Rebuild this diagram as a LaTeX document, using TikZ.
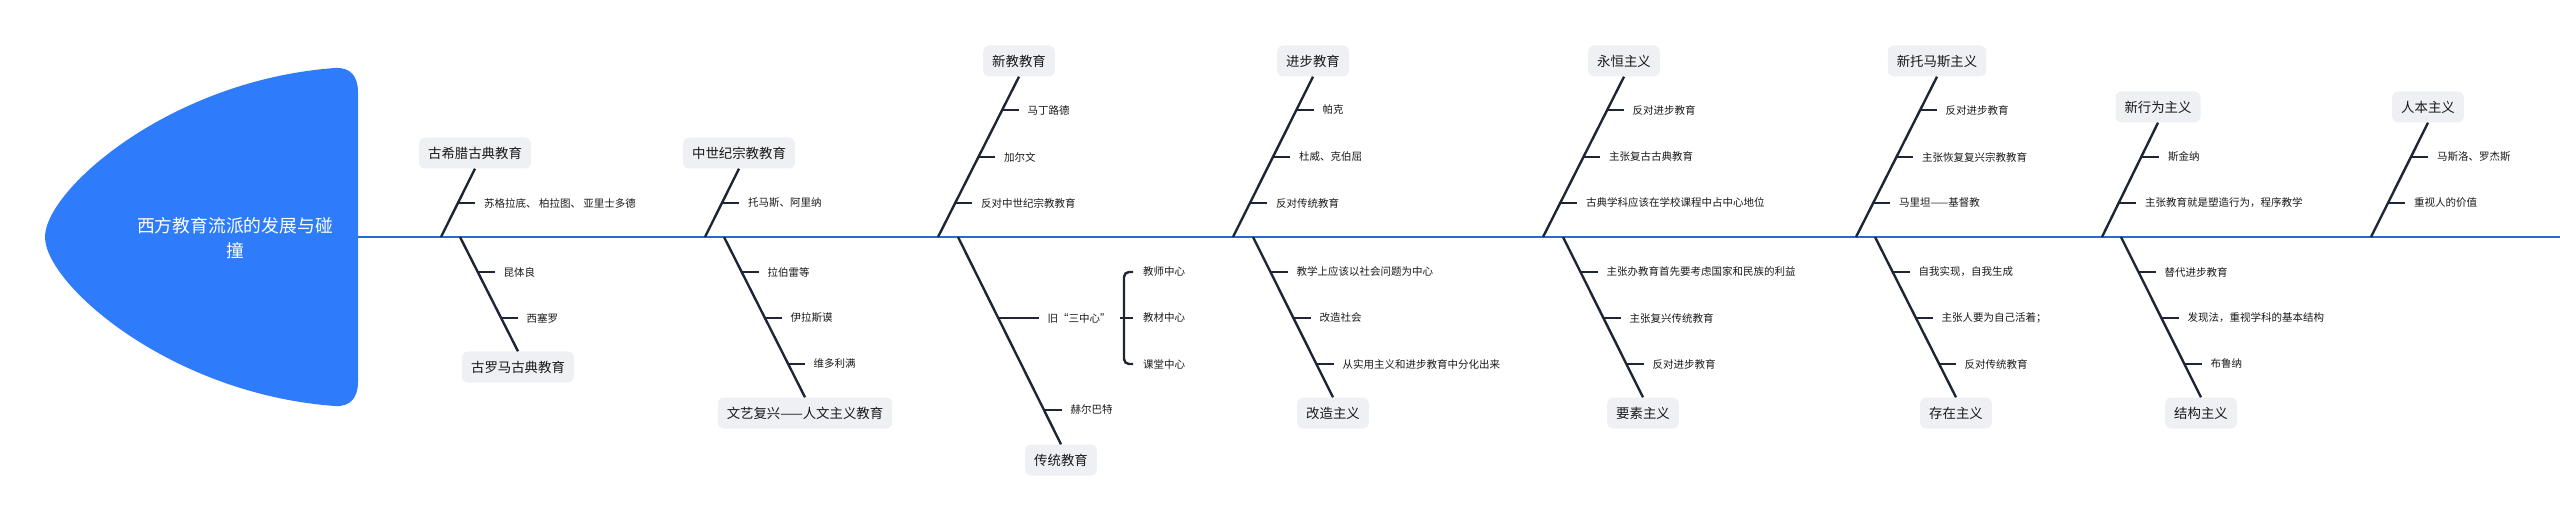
\documentclass[tikz,border=0pt]{standalone}
\usepackage{fontspec}
\newfontfamily\cjk{Noto Sans CJK SC}
\usetikzlibrary{positioning, calc}
\definecolor{headblue}{RGB}{46,124,250}
\definecolor{spineblue}{RGB}{38,106,214}
\definecolor{bonecol}{RGB}{30,37,52}
\definecolor{boxfill}{RGB}{238,240,244}
\definecolor{txtcol}{RGB}{25,25,25}
\tikzset{
	spine/.style = {spineblue, line width=2.6pt},
	bone/.style = {bonecol, line width=2.4pt},
	cat/.style = {fill=boxfill, rounded corners=6pt, text=txtcol, inner xsep=9pt, minimum height=31pt, font=\cjk\fontsize{13.4pt}{16pt}\selectfont},
	item/.style = {text=txtcol, inner xsep=9pt, inner ysep=2pt, font=\cjk\fontsize{10.5pt}{12pt}\selectfont},
	rootlabel/.style = {text=white, align=center, font=\cjk\fontsize{17.8pt}{25pt}\selectfont}
}
\begin{document}
\begin{tikzpicture}[x=1pt, y=-1pt]
	\useasboundingbox (0,0) rectangle (2560,521);
	%%% Testa
	\fill[headblue] (45,237) .. controls (45,190) and (170,80) .. (335,68)
		.. controls (350,67) and (358,76) .. (358,92) -- (358,382)
		.. controls (358,398) and (350,407) .. (335,406)
		.. controls (170,394) and (45,284) .. (45,237) -- cycle;
	\node[rootlabel] (root) at (235,238) {西方教育流派的发展与碰\\撞};
	\coordinate (headR) at (358,237);
	\coordinate (tail) at (2560,237);
	\draw[spine] (headR) -- (tail);
	%%% Rami superiori
	\coordinate (u1s) at (441,237);
	\node[cat] (u1) at (475,153) {古希腊古典教育};
	\draw[bone] (u1s) -- (u1.south);
	\foreach \d/\t [count=\i] in {34/苏格拉底、 柏拉图、 亚里士多德}{
		\coordinate (u1k\i) at ($(u1s)+(\d/2,-\d)$);
		\node[item, right=17pt of u1k\i] (u1t\i) {\t};
		\draw[bone] (u1k\i) -- (u1t\i.west);
	}
	\coordinate (u2s) at (705,237);
	\node[cat] (u2) at (739,153) {中世纪宗教教育};
	\draw[bone] (u2s) -- (u2.south);
	\foreach \d/\t [count=\i] in {34/托马斯、阿里纳}{
		\coordinate (u2k\i) at ($(u2s)+(\d/2,-\d)$);
		\node[item, right=17pt of u2k\i] (u2t\i) {\t};
		\draw[bone] (u2k\i) -- (u2t\i.west);
	}
	\coordinate (u3s) at (938,237);
	\node[cat] (u3) at (1019,61) {新教教育};
	\draw[bone] (u3s) -- (u3.south);
	\foreach \d/\t [count=\i] in {127/马丁路德, 80/加尔文, 34/反对中世纪宗教教育}{
		\coordinate (u3k\i) at ($(u3s)+(\d/2,-\d)$);
		\node[item, right=17pt of u3k\i] (u3t\i) {\t};
		\draw[bone] (u3k\i) -- (u3t\i.west);
	}
	\coordinate (u4s) at (1233,237);
	\node[cat] (u4) at (1313,61) {进步教育};
	\draw[bone] (u4s) -- (u4.south);
	\foreach \d/\t [count=\i] in {127/帕克, 80/杜威、克伯屈, 34/反对传统教育}{
		\coordinate (u4k\i) at ($(u4s)+(\d/2,-\d)$);
		\node[item, right=17pt of u4k\i] (u4t\i) {\t};
		\draw[bone] (u4k\i) -- (u4t\i.west);
	}
	\coordinate (u5s) at (1543,237);
	\node[cat] (u5) at (1624,61) {永恒主义};
	\draw[bone] (u5s) -- (u5.south);
	\foreach \d/\t [count=\i] in {127/反对进步教育, 80/主张复古古典教育, 34/古典学科应该在学校课程中占中心地位}{
		\coordinate (u5k\i) at ($(u5s)+(\d/2,-\d)$);
		\node[item, right=17pt of u5k\i] (u5t\i) {\t};
		\draw[bone] (u5k\i) -- (u5t\i.west);
	}
	\coordinate (u6s) at (1856,237);
	\node[cat] (u6) at (1937,61) {新托马斯主义};
	\draw[bone] (u6s) -- (u6.south);
	\foreach \d/\t [count=\i] in {127/反对进步教育, 80/主张恢复复兴宗教教育, 34/马里坦——基督教}{
		\coordinate (u6k\i) at ($(u6s)+(\d/2,-\d)$);
		\node[item, right=17pt of u6k\i] (u6t\i) {\t};
		\draw[bone] (u6k\i) -- (u6t\i.west);
	}
	\coordinate (u7s) at (2102,237);
	\node[cat] (u7) at (2158,107) {新行为主义};
	\draw[bone] (u7s) -- (u7.south);
	\foreach \d/\t [count=\i] in {80/斯金纳, 34/主张教育就是塑造行为，程序教学}{
		\coordinate (u7k\i) at ($(u7s)+(\d/2,-\d)$);
		\node[item, right=17pt of u7k\i] (u7t\i) {\t};
		\draw[bone] (u7k\i) -- (u7t\i.west);
	}
	\coordinate (u8s) at (2371,237);
	\node[cat] (u8) at (2428,107) {人本主义};
	\draw[bone] (u8s) -- (u8.south);
	\foreach \d/\t [count=\i] in {80/马斯洛、罗杰斯, 34/重视人的价值}{
		\coordinate (u8k\i) at ($(u8s)+(\d/2,-\d)$);
		\node[item, right=17pt of u8k\i] (u8t\i) {\t};
		\draw[bone] (u8k\i) -- (u8t\i.west);
	}
	%%% Rami inferiori
	\coordinate (d1s) at (460,237);
	\node[cat] (d1) at (518,367) {古罗马古典教育};
	\draw[bone] (d1s) -- (d1.north);
	\foreach \d/\t [count=\i] in {35/昆体良, 81/西塞罗}{
		\coordinate (d1k\i) at ($(d1s)+(\d/2,\d)$);
		\node[item, right=17pt of d1k\i] (d1t\i) {\t};
		\draw[bone] (d1k\i) -- (d1t\i.west);
	}
	\coordinate (d2s) at (724,237);
	\node[cat] (d2) at (805,413) {文艺复兴——人文主义教育};
	\draw[bone] (d2s) -- (d2.north);
	\foreach \d/\t [count=\i] in {35/拉伯雷等, 81/伊拉斯谟, 127/维多利满}{
		\coordinate (d2k\i) at ($(d2s)+(\d/2,\d)$);
		\node[item, right=17pt of d2k\i] (d2t\i) {\t};
		\draw[bone] (d2k\i) -- (d2t\i.west);
	}
	\coordinate (d3s) at (958,237);
	\node[cat] (d3) at (1061,460) {传统教育};
	\draw[bone] (d3s) -- (d3.north);
	\coordinate (d3k1) at ($(d3s)+(40.5,81)$);
	\node[item, right=40pt of d3k1] (d3t1) {旧“三中心”};
	\draw[bone] (d3k1) -- (d3t1.west);
	\coordinate (d3k2) at ($(d3s)+(86.5,173)$);
	\node[item, right=17pt of d3k2] (d3t2) {赫尔巴特};
	\draw[bone] (d3k2) -- (d3t2.west);
	% tre centri
	\node[item, anchor=west, inner xsep=10pt] (c1) at (1133,272) {教师中心};
	\node[item, anchor=west, inner xsep=10pt] (c2) at (1133,318) {教材中心};
	\node[item, anchor=west, inner xsep=10pt] (c3) at (1133,364) {课堂中心};
	\draw[bone] (d3t1.east) -- (c2.west);
	\draw[bone, rounded corners=5pt] (c1.west) -- ++(-9,0) |- (c3.west);
	\coordinate (d4s) at (1253,237);
	\node[cat] (d4) at (1333,413) {改造主义};
	\draw[bone] (d4s) -- (d4.north);
	\foreach \d/\t [count=\i] in {35/教学上应该以社会问题为中心, 81/改造社会, 127/从实用主义和进步教育中分化出来}{
		\coordinate (d4k\i) at ($(d4s)+(\d/2,\d)$);
		\node[item, right=17pt of d4k\i] (d4t\i) {\t};
		\draw[bone] (d4k\i) -- (d4t\i.west);
	}
	\coordinate (d5s) at (1563,237);
	\node[cat] (d5) at (1643,413) {要素主义};
	\draw[bone] (d5s) -- (d5.north);
	\foreach \d/\t [count=\i] in {35/主张办教育首先要考虑国家和民族的利益, 81/主张复兴传统教育, 127/反对进步教育}{
		\coordinate (d5k\i) at ($(d5s)+(\d/2,\d)$);
		\node[item, right=17pt of d5k\i] (d5t\i) {\t};
		\draw[bone] (d5k\i) -- (d5t\i.west);
	}
	\coordinate (d6s) at (1875,237);
	\node[cat] (d6) at (1956,413) {存在主义};
	\draw[bone] (d6s) -- (d6.north);
	\foreach \d/\t [count=\i] in {35/自我实现，自我生成, 81/主张人要为自己活着；, 127/反对传统教育}{
		\coordinate (d6k\i) at ($(d6s)+(\d/2,\d)$);
		\node[item, right=17pt of d6k\i] (d6t\i) {\t};
		\draw[bone] (d6k\i) -- (d6t\i.west);
	}
	\coordinate (d7s) at (2121,237);
	\node[cat] (d7) at (2201,413) {结构主义};
	\draw[bone] (d7s) -- (d7.north);
	\foreach \d/\t [count=\i] in {35/替代进步教育, 81/发现法，重视学科的基本结构, 127/布鲁纳}{
		\coordinate (d7k\i) at ($(d7s)+(\d/2,\d)$);
		\node[item, right=17pt of d7k\i] (d7t\i) {\t};
		\draw[bone] (d7k\i) -- (d7t\i.west);
	}
\end{tikzpicture}
\end{document}
